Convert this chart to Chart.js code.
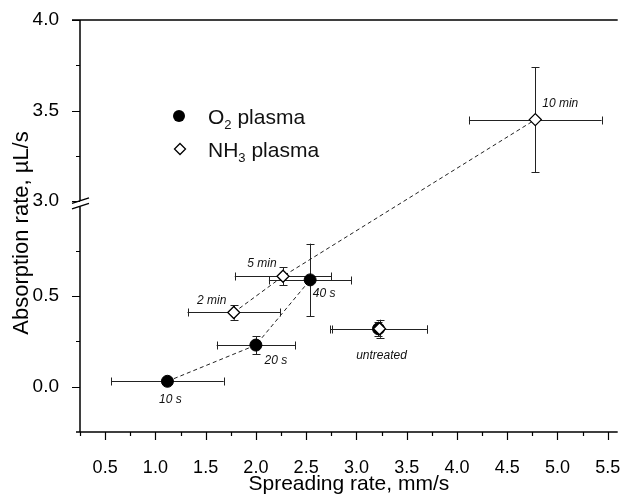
<!DOCTYPE html>
<html>
<head>
<meta charset="utf-8">
<script src="https://cdn.jsdelivr.net/npm/chart.js@4.4.1/dist/chart.umd.min.js"></script>
<style>
  html, body { margin: 0; padding: 0; background: #fff; }
  #wrap { width: 625px; height: 497px; }
</style>
</head>
<body>
<div id="wrap"><canvas id="rates" width="625" height="497"></canvas></div>
<script>
// O2 plasma: treatment time, spreading rate (mm/s), absorption rate (uL/s) and error half-widths
const o2Tags = ['10 s', '20 s', '40 s', 'untreated'];
const o2Spread = [1.12, 2.00, 2.54, 3.22];
const o2SpreadErr = [0.56, 0.39, 0.41, 0.48];
const o2Absorb = [0.03, 0.23, 0.59, 0.32];
const o2AbsorbErr = [0.01, 0.05, 0.20, 0.04];

// NH3 plasma
const nh3Tags = ['untreated', '2 min', '5 min', '10 min'];
const nh3Spread = [3.23, 1.78, 2.27, 4.78];
const nh3SpreadErr = [0.47, 0.46, 0.48, 0.66];
const nh3Absorb = [0.32, 0.41, 0.61, 3.45];
const nh3AbsorbErr = [0.05, 0.04, 0.05, 0.29];

const xMajorTicks = [0.5, 1.0, 1.5, 2.0, 2.5, 3.0, 3.5, 4.0, 4.5, 5.0, 5.5];
const xMinorTicks = [0.25, 0.75, 1.25, 1.75, 2.25, 2.75, 3.25, 3.75, 4.25, 4.75, 5.25];
const yMajorTicks = [0.0, 0.5, 3.0, 3.5, 4.0];
const yMinorTicks = [0.25, 0.75, 3.25, 3.75];

// broken y axis: 3.0..4.0 is shifted down to sit just above the 0..1 part
const axisY = v => (v >= 2 ? v - 1.975 : v);
const valueY = a => (a > 1.0125 ? a + 1.975 : a);
const BREAK_AT = 1.0125;

const FONT = "Arial, 'Liberation Sans', sans-serif";

const toPoints = (xs, ys, tags) => xs.map((x, i) => ({ x, y: axisY(ys[i]), v: ys[i], tag: tags[i] }));

// untreated points are not joined to the series
const skipUntreated = tags => ctx =>
  (tags[ctx.p0DataIndex] === 'untreated' || tags[ctx.p1DataIndex] === 'untreated') ? 'rgba(0,0,0,0)' : '#222';

const tagOffsets = {
  '10 s': [3, 18], '20 s': [20, 16], '40 s': [14, 14], 'untreated': [2, 27],
  '2 min': [-22, -12], '5 min': [-21, -13], '10 min': [25, -16]
};

const crisp = v => Math.round(v) + 0.5;

const errorBars = {
  id: 'errorBars',
  beforeDatasetsDraw(chart) {
    const { ctx, scales: { x, y } } = chart;
    ctx.save();
    ctx.strokeStyle = '#222';
    ctx.lineWidth = 1;
    chart.data.datasets.forEach(ds => {
      ds.data.forEach((p, i) => {
        const px = crisp(x.getPixelForValue(p.x));
        const py = crisp(y.getPixelForValue(p.y));
        const x0 = x.getPixelForValue(p.x - ds.xErr[i]);
        const x1 = x.getPixelForValue(p.x + ds.xErr[i]);
        const y0 = y.getPixelForValue(axisY(p.v - ds.yErr[i]));
        const y1 = y.getPixelForValue(axisY(p.v + ds.yErr[i]));
        ctx.beginPath();
        ctx.moveTo(x0, py); ctx.lineTo(x1, py);
        ctx.moveTo(crisp(x0), py - 4); ctx.lineTo(crisp(x0), py + 4);
        ctx.moveTo(crisp(x1), py - 4); ctx.lineTo(crisp(x1), py + 4);
        ctx.moveTo(px, y0); ctx.lineTo(px, y1);
        ctx.moveTo(px - 4, crisp(y0)); ctx.lineTo(px + 4, crisp(y0));
        ctx.moveTo(px - 4, crisp(y1)); ctx.lineTo(px + 4, crisp(y1));
        ctx.stroke();
      });
    });
    ctx.restore();
  }
};

const pointTags = {
  id: 'pointTags',
  afterDatasetsDraw(chart) {
    const { ctx, scales: { x, y } } = chart;
    const done = new Set();
    ctx.save();
    ctx.font = 'italic 12px ' + FONT;
    ctx.fillStyle = '#111';
    ctx.textAlign = 'center';
    ctx.textBaseline = 'middle';
    chart.data.datasets.forEach(ds => {
      ds.data.forEach(p => {
        if (done.has(p.tag)) return;
        done.add(p.tag);
        const [dx, dy] = tagOffsets[p.tag];
        ctx.fillText(p.tag, x.getPixelForValue(p.x) + dx, y.getPixelForValue(p.y) + dy);
      });
    });
    ctx.restore();
  }
};

const axisFrame = {
  id: 'axisFrame',
  afterDraw(chart) {
    const { ctx, chartArea: a, scales: { x, y } } = chart;
    const yb = y.getPixelForValue(BREAK_AT);
    ctx.save();
    ctx.strokeStyle = '#000';
    ctx.lineWidth = 1.5;
    ctx.beginPath();
    // top and bottom lines
    ctx.moveTo(a.left - 8, a.top); ctx.lineTo(a.right, a.top);
    ctx.moveTo(a.left - 4, a.bottom); ctx.lineTo(a.right, a.bottom);
    // left axis, interrupted at the break
    ctx.moveTo(a.left, a.top); ctx.lineTo(a.left, yb - 3);
    ctx.moveTo(a.left, yb + 3); ctx.lineTo(a.left, a.bottom);
    // break marks
    ctx.moveTo(a.left - 8, yb); ctx.lineTo(a.left + 9, yb - 5.5);
    ctx.moveTo(a.left - 8, yb + 5.5); ctx.lineTo(a.left + 9, yb);
    ctx.stroke();

    ctx.lineWidth = 1.2;
    ctx.beginPath();
    xMajorTicks.forEach(t => { const px = crisp(x.getPixelForValue(t)); ctx.moveTo(px, a.bottom); ctx.lineTo(px, a.bottom + 8); });
    xMinorTicks.forEach(t => { const px = crisp(x.getPixelForValue(t)); ctx.moveTo(px, a.bottom); ctx.lineTo(px, a.bottom + 4); });
    yMajorTicks.forEach(t => { const py = crisp(y.getPixelForValue(axisY(t))); ctx.moveTo(a.left - 8, py); ctx.lineTo(a.left, py); });
    yMinorTicks.forEach(t => { const py = crisp(y.getPixelForValue(axisY(t))); ctx.moveTo(a.left - 4, py); ctx.lineTo(a.left, py); });
    ctx.stroke();

    // y axis title, centred a little below the middle of the axis
    ctx.fillStyle = '#000';
    ctx.font = '22px ' + FONT;
    ctx.textAlign = 'center';
    ctx.textBaseline = 'middle';
    ctx.translate(22, 233);
    ctx.rotate(-Math.PI / 2);
    ctx.fillText('Absorption rate, µL/s', 0, 0);
    ctx.restore();
  }
};

// legend with subscripted formulas
const formulaLegend = {
  id: 'formulaLegend',
  afterDraw(chart) {
    const { ctx } = chart;
    const rows = [
      { y: 116, shape: 'circle', parts: ['O', '2', ' plasma'] },
      { y: 149, shape: 'diamond', parts: ['NH', '3', ' plasma'] }
    ];
    ctx.save();
    rows.forEach(r => {
      ctx.beginPath();
      if (r.shape === 'circle') {
        ctx.arc(179, r.y, 6, 0, Math.PI * 2);
        ctx.fillStyle = '#000';
        ctx.fill();
      } else {
        ctx.moveTo(180, r.y - 5.5); ctx.lineTo(185.5, r.y); ctx.lineTo(180, r.y + 5.5); ctx.lineTo(174.5, r.y);
        ctx.closePath();
        ctx.fillStyle = '#fff';
        ctx.fill();
        ctx.strokeStyle = '#000';
        ctx.lineWidth = 1.3;
        ctx.stroke();
      }
      ctx.fillStyle = '#111';
      ctx.textBaseline = 'alphabetic';
      ctx.textAlign = 'left';
      let tx = 208;
      const base = r.y + 7.5;
      ctx.font = '21px ' + FONT;
      ctx.fillText(r.parts[0], tx, base);
      tx += ctx.measureText(r.parts[0]).width;
      ctx.font = '13px ' + FONT;
      ctx.fillText(r.parts[1], tx, base + 5);
      tx += ctx.measureText(r.parts[1]).width;
      ctx.font = '21px ' + FONT;
      ctx.fillText(r.parts[2], tx, base);
    });
    ctx.restore();
  }
};

new Chart(document.getElementById('rates'), {
  type: 'scatter',
  data: {
    datasets: [
      {
        label: 'NH3 plasma',
        data: toPoints(nh3Spread, nh3Absorb, nh3Tags),
        xErr: nh3SpreadErr,
        yErr: nh3AbsorbErr,
        order: 0,
        showLine: true,
        borderColor: '#222',
        borderWidth: 1,
        borderDash: [4, 3],
        segment: { borderColor: skipUntreated(nh3Tags) },
        pointStyle: 'rectRot',
        pointRadius: 6,
        pointBackgroundColor: '#fff',
        pointBorderColor: '#000',
        pointBorderWidth: 1.3
      },
      {
        label: 'O2 plasma',
        data: toPoints(o2Spread, o2Absorb, o2Tags),
        xErr: o2SpreadErr,
        yErr: o2AbsorbErr,
        order: 1,
        showLine: true,
        borderColor: '#222',
        borderWidth: 1,
        borderDash: [4, 3],
        segment: { borderColor: skipUntreated(o2Tags) },
        pointStyle: 'circle',
        pointRadius: 6,
        pointBackgroundColor: '#000',
        pointBorderColor: '#000',
        pointBorderWidth: 1
      }
    ]
  },
  options: {
    responsive: false,
    animation: false,
    events: [],
    layout: { padding: { top: 20, right: 0, bottom: 0, left: 0 } },
    plugins: { legend: { display: false }, tooltip: { enabled: false } },
    scales: {
      x: {
        type: 'linear',
        min: 0.25,
        max: 5.6,
        grid: { display: false },
        border: { display: false },
        afterBuildTicks: s => { s.ticks = xMajorTicks.map(v => ({ value: v })); },
        afterFit: s => { s.height = 65; s.paddingLeft = 0; s.paddingRight = 0; },
        ticks: {
          autoSkip: false,
          maxRotation: 0,
          padding: 17,
          color: '#000',
          font: { family: FONT, size: 18 },
          callback: v => v.toFixed(1)
        },
        title: {
          display: true,
          text: 'Spreading rate, mm/s',
          color: '#000',
          font: { family: FONT, size: 21 },
          padding: { top: 0, bottom: 0 }
        }
      },
      y: {
        type: 'linear',
        min: -0.25,
        max: 2.025,
        grid: { display: false },
        border: { display: false },
        afterBuildTicks: s => { s.ticks = yMajorTicks.map(v => ({ value: axisY(v) })); },
        afterFit: s => { s.width = 80; s.paddingTop = 0; s.paddingBottom = 0; },
        ticks: {
          autoSkip: false,
          padding: 13,
          color: '#000',
          font: { family: FONT, size: 19 },
          callback: v => valueY(v).toFixed(1)
        }
      }
    }
  },
  plugins: [errorBars, pointTags, axisFrame, formulaLegend]
});
</script>
</body>
</html>
